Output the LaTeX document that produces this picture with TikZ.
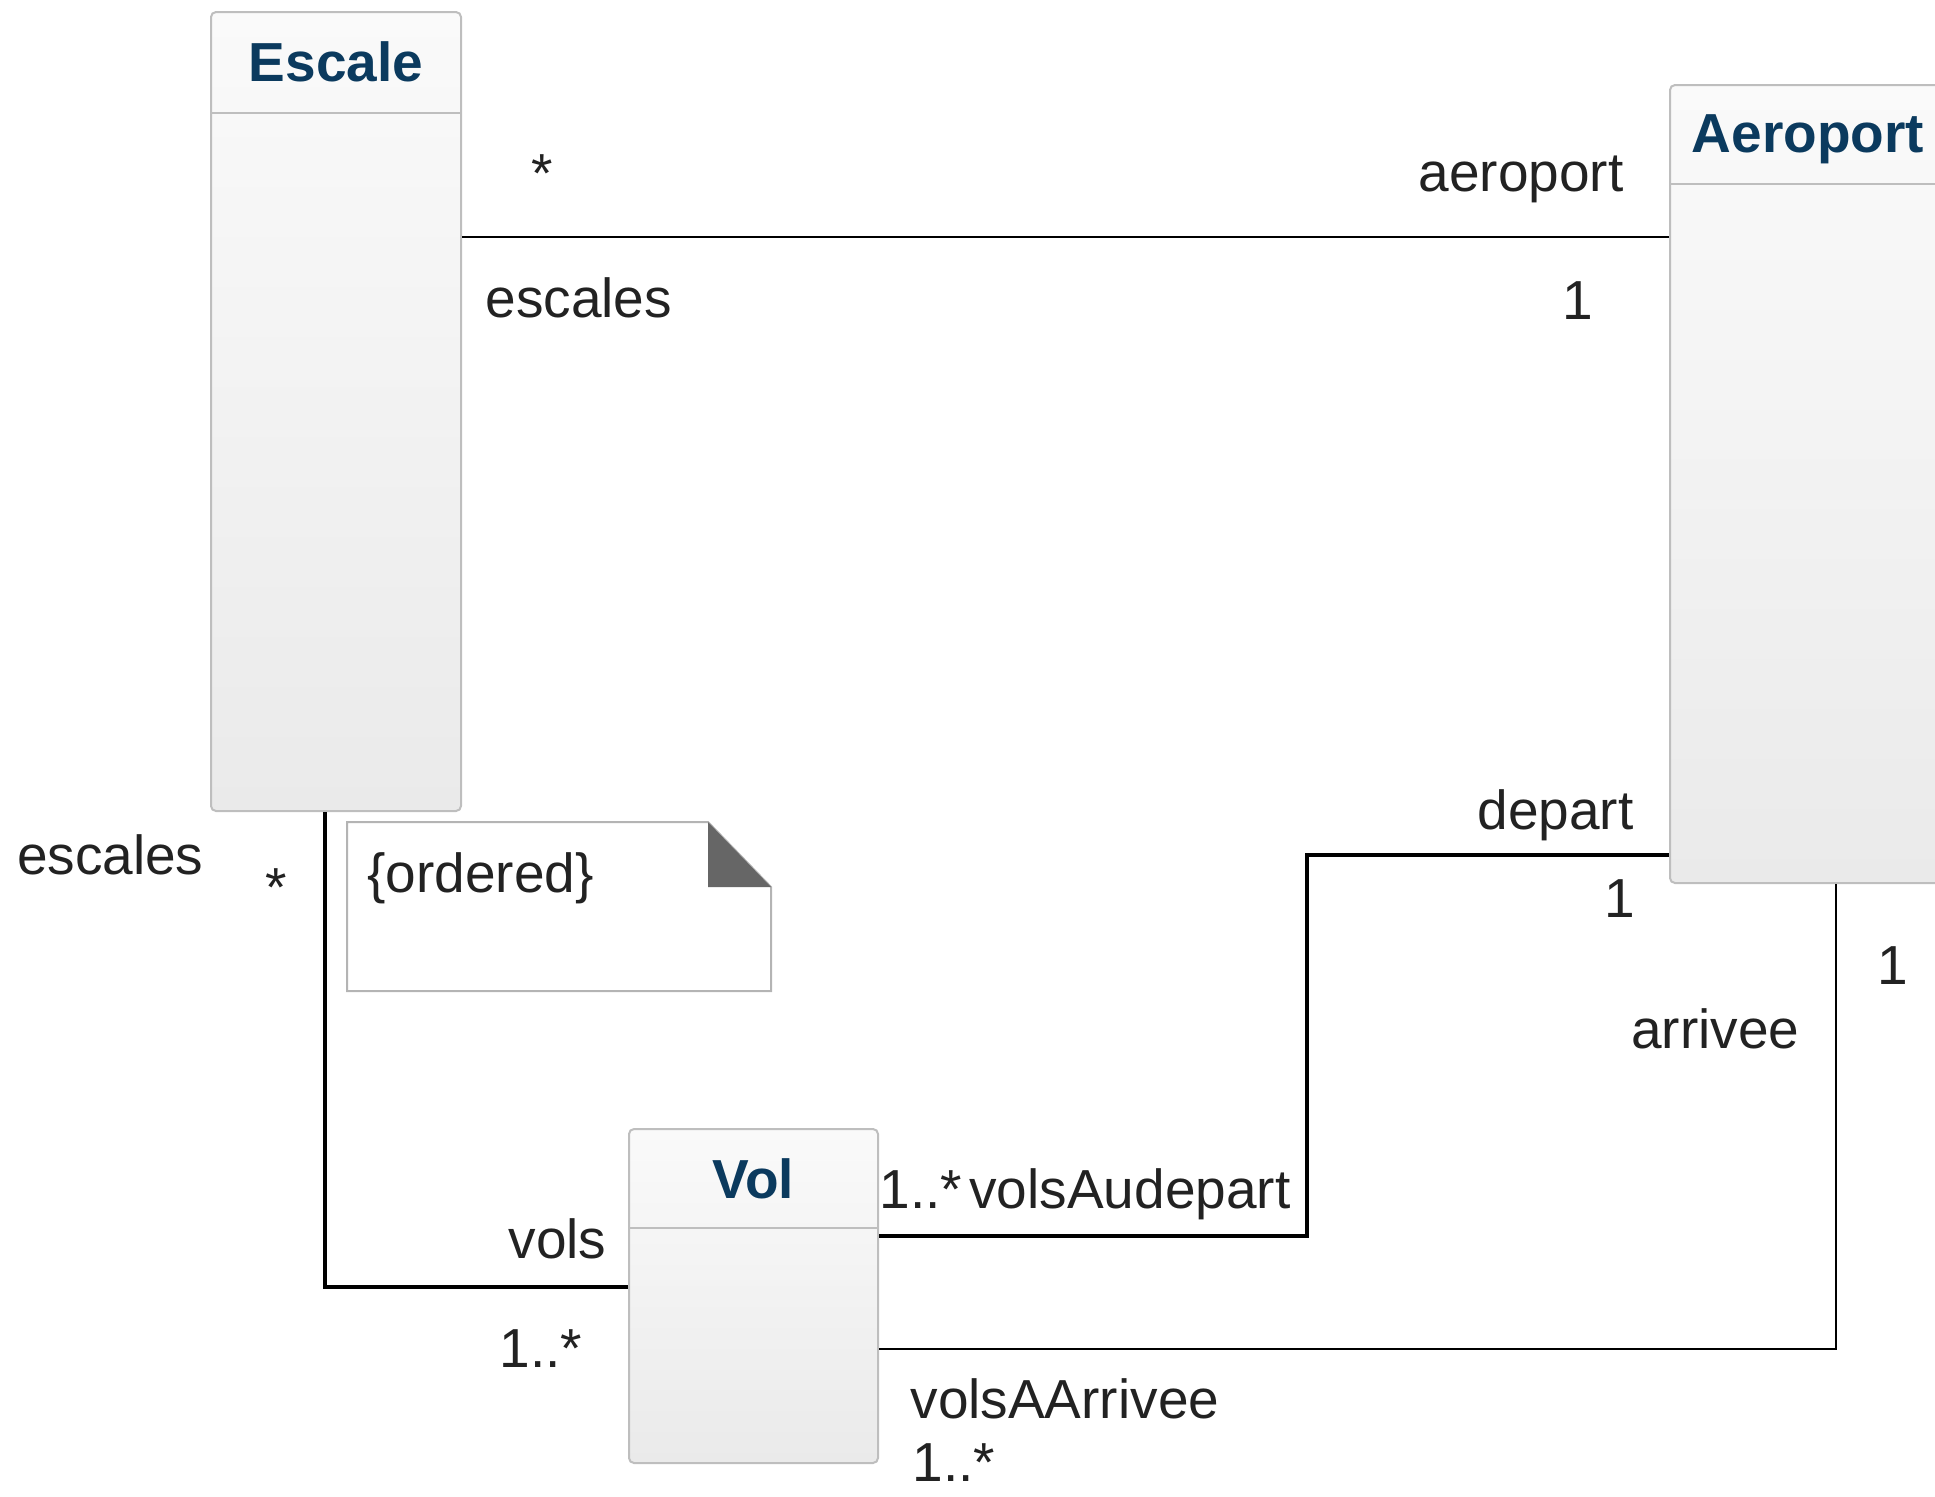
\documentclass[tikz,border=0pt]{standalone}
\usepackage{fontspec}
\setmainfont{Liberation Sans}
\usepackage{tikz}
\usetikzlibrary{calc}
\definecolor{titleblue}{HTML}{0B3A5E}
\definecolor{boxline}{HTML}{BEBEBE}
\definecolor{boxtop}{HTML}{FAFAFA}
\definecolor{boxbottom}{HTML}{EAEAEA}
\definecolor{notegray}{HTML}{B4B4B4}
\definecolor{foldgray}{HTML}{666666}
\definecolor{labelgray}{HTML}{222222}
\newcommand{\lblsize}{\fontsize{22pt}{26pt}\selectfont}

\begin{document}
\begin{tikzpicture}[x=0.4pt,y=-0.4pt,inner sep=0pt,font=\lblsize,
    classbox/.style={draw=boxline,line width=0.8pt,rounded corners=2pt,
        top color=boxtop,bottom color=boxbottom,anchor=north west},
    sepline/.style={draw=boxline,line width=0.8pt},
    classname/.style={font=\lblsize\bfseries,text=titleblue,anchor=base},
    role/.style={text=labelgray},
    notebox/.style={draw=notegray,line width=0.8pt,fill=white},
    assoc/.style={line width=1pt,black},
    heavy/.style={line width=1.4pt,black}]
\useasboundingbox (0,0) rectangle (1935,1496);
\clip (0,0) rectangle (1935,1496);
% classes
\node[classbox,minimum width=100pt,minimum height=319.6pt] (escale) at (210,11) {};
\node[classbox,minimum width=110.4pt,minimum height=319.2pt] (aeroport) at (1669,84) {};
\node[classbox,minimum width=99.6pt,minimum height=133.6pt] (vol) at (628,1128) {};
\draw[sepline] (escale.west |- 0,113) -- (escale.east |- 0,113);
\draw[sepline] (aeroport.west |- 0,184) -- (aeroport.east |- 0,184);
\draw[sepline] (vol.west |- 0,1228) -- (vol.east |- 0,1228);
\node[classname] (escalename) at (escale.north |- 0,81) {Escale};
\node[classname] (aeroportname) at (aeroport.north |- 0,152) {Aeroport};
\node[classname] (volname) at (vol.north |- 0,1198) {Vol};
% note
\node[minimum width=169.2pt,minimum height=67.2pt,anchor=north west] (note) at (347,822) {};
\draw[notebox] (note.north west) -- ($(note.north east)+(-63,0)$)
    -- ($(note.north east)+(0,65)$) -- (note.south east) -- (note.south west) -- cycle;
\fill[foldgray] ($(note.north east)+(-63,0)$) -- ($(note.north east)+(-63,65)$)
    -- ($(note.north east)+(0,65)$) -- cycle;
\node[role,anchor=base west] (ordered) at (367,892) {\{ordered\}};
% associations
\coordinate (departbend) at (1307,855);
\draw[assoc] (escale.east |- 0,237) -- (aeroport.west |- 0,237);
\draw[heavy] (escale.south -| 325,0) |- (vol.west |- 0,1287);
\draw[heavy] (vol.east |- 0,1236) -| (departbend) -- (aeroport.west |- departbend);
\draw[assoc] (vol.east |- 0,1349) -| (aeroport.south -| 1836,0);
% ends
\node[role,anchor=base] (escalesmult) at (542,192) {*};
\node[role,anchor=base east] (aeroportrole) at (1624,191) {aeroport};
\node[role,anchor=base west] (escalesrole) at (485,317) {escales};
\node[role,anchor=base] (aeroportmult) at (1578,319) {1};
\node[role,anchor=base east] (escalesrole2) at (204,874) {escales};
\node[role,anchor=base] (escalesmult2) at (276,906) {*};
\node[role,anchor=base east] (volsrole) at (607,1258) {vols};
\node[role,anchor=base west] (volsmult) at (499,1367) {1..*};
\node[role,anchor=base west] (departmult2) at (879,1208) {1..*};
\node[role,anchor=base east] (departrole2) at (1291,1208) {volsAudepart};
\node[role,anchor=base east] (departrole) at (1634,829) {depart};
\node[role,anchor=base] (departmult) at (1620,917) {1};
\node[role,anchor=base] (arriveemult) at (1893,984) {1};
\node[role,anchor=base east] (arriveerole) at (1800,1048) {arrivee};
\node[role,anchor=base west] (arriveerole2) at (910,1418) {volsAArrivee};
\node[role,anchor=base west] (arriveemult2) at (912,1481) {1..*};
\end{tikzpicture}
\end{document}
